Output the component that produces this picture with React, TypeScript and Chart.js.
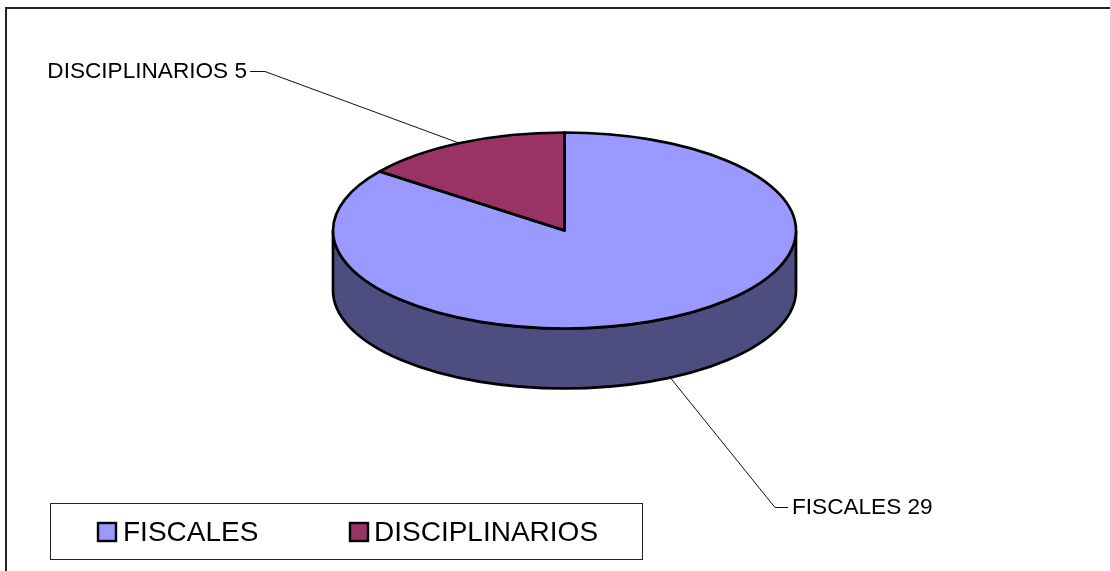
import React, { useEffect, useRef } from "react";
import { Chart, registerables } from "chart.js";

Chart.register(...registerables);

const categories = ["FISCALES", "DISCIPLINARIOS"];
const values = [29, 5];
const topColors = ["#9999FF", "#993366"];
const sideColors = ["#4D4D80", "#4D1A33"];

const FONT = '"Liberation Sans", Arial, sans-serif';
const CY = 230.5;
const RY = 98;
const DEPTH = 60;

const pie3d = {
  id: "pie3d",
  beforeDraw(chart: any) {
    const c = chart.ctx;
    c.save();
    c.fillStyle = "#fff";
    c.fillRect(0, 0, chart.width, chart.height);
    c.strokeStyle = "#222";
    c.lineWidth = 2;
    c.strokeRect(6, 8, chart.width + 20, chart.height + 20);
    c.restore();
  },
  beforeDatasetsDraw(chart: any) {
    const c = chart.ctx;
    const arc0 = chart.getDatasetMeta(0).data[0];
    const cx = arc0.x;
    const r = arc0.outerRadius;
    // side wall of the front half of the disc
    c.save();
    c.beginPath();
    c.ellipse(cx, CY, r, RY, 0, 0, Math.PI, false);
    c.lineTo(cx - r, CY + DEPTH);
    c.ellipse(cx, CY + DEPTH, r, RY, 0, Math.PI, 0, true);
    c.closePath();
    c.fillStyle = sideColors[0];
    c.fill();
    c.strokeStyle = "#000";
    c.lineWidth = 2.7;
    c.stroke();
    c.restore();
    // flatten the pie that the library draws
    c.save();
    c.translate(cx, CY);
    c.scale(1, RY / r);
    c.translate(-cx, -arc0.y);
  },
  afterDatasetsDraw(chart: any) {
    const c = chart.ctx;
    c.restore();
    const arcs = chart.getDatasetMeta(0).data;
    const cx = arcs[0].x;
    const r = arcs[0].outerRadius;
    const k = RY / r;
    // outlines
    c.save();
    c.strokeStyle = "#000";
    c.lineWidth = 2.7;
    c.lineJoin = "round";
    arcs.forEach((a: any) => {
      c.beginPath();
      c.moveTo(cx, CY);
      c.lineTo(cx + r * Math.cos(a.startAngle), CY + RY * Math.sin(a.startAngle));
      c.ellipse(cx, CY, r, RY, 0, a.startAngle, a.endAngle, false);
      c.closePath();
      c.stroke();
    });
    c.restore();

    // leader lines and data labels
    const place = [
      { elbowX: 775, elbowY: 507, endX: 788, textX: 792, align: "left", front: true },
      { elbowX: 265, elbowY: 71, endX: 250, textX: 247, align: "right", front: false },
    ];
    c.save();
    arcs.forEach((a: any, i: number) => {
      const mid = (a.startAngle + a.endAngle) / 2;
      const p = place[i];
      const ax = cx + r * Math.cos(mid) + (p.front ? 3 : -3);
      const ay = CY + r * k * Math.sin(mid) + (p.front ? DEPTH : 0);
      c.beginPath();
      c.moveTo(ax, ay);
      c.lineTo(p.elbowX, p.elbowY + 0.5);
      c.lineTo(p.endX, p.elbowY + 0.5);
      c.strokeStyle = "#111";
      c.lineWidth = 1;
      c.stroke();
      c.font = `22.6px ${FONT}`;
      c.fillStyle = "#000";
      c.textAlign = p.align;
      c.textBaseline = "middle";
      c.fillText(`${categories[i]} ${values[i]}`, p.textX, p.elbowY + 0.5);
    });
    c.restore();
  },
  afterDraw(chart: any) {
    const c = chart.ctx;
    c.save();
    c.strokeStyle = "#222";
    c.lineWidth = 1;
    c.strokeRect(50.5, 503.5, 592, 56);
    const boxX = [98, 350];
    const textX = [123, 374];
    categories.forEach((label, i) => {
      c.fillStyle = topColors[i];
      c.fillRect(boxX[i], 523, 18, 18);
      c.strokeStyle = "#000";
      c.lineWidth = 2.4;
      c.strokeRect(boxX[i], 523, 18, 18);
      c.font = `28px ${FONT}`;
      c.fillStyle = "#000";
      c.textAlign = "left";
      c.textBaseline = "middle";
      c.fillText(label, textX[i], 533);
    });
    c.restore();
  },
};

export default function App() {
  const ref = useRef<HTMLCanvasElement>(null);
  useEffect(() => {
    const chart = new Chart(ref.current as HTMLCanvasElement, {
      type: "pie",
      data: {
        labels: categories,
        datasets: [{ data: values, backgroundColor: topColors, borderWidth: 0 }],
      },
      options: {
        animation: false,
        responsive: false,
        devicePixelRatio: 1,
        layout: { padding: { left: 333, right: 314, top: 0, bottom: 108 } },
        plugins: { legend: { display: false }, tooltip: { enabled: false } },
      },
      plugins: [pie3d],
    } as any);
    return () => chart.destroy();
  }, []);
  return (
    <canvas
      ref={ref}
      width={1110}
      height={571}
      style={{ position: "absolute", left: 0, top: 0, width: 1110, height: 571 }}
    />
  );
}
